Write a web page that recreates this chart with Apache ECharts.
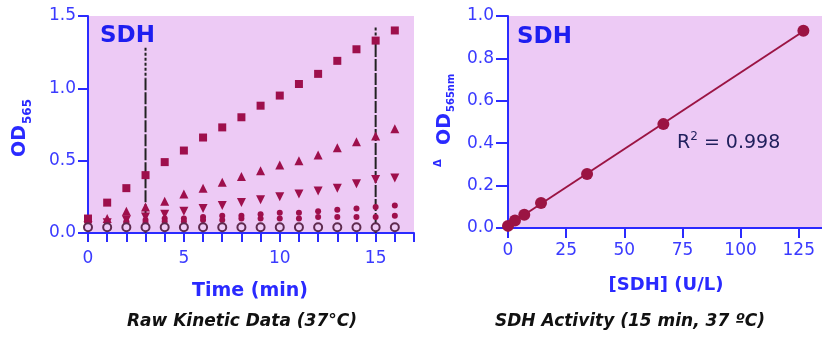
<!DOCTYPE html>
<html>
<head>
<meta charset="utf-8">
<script src="https://cdn.jsdelivr.net/npm/echarts@6/dist/echarts.min.js"></script>
<style>
  html, body { margin: 0; padding: 0; background: #fff; }
  #chart { width: 822px; height: 337px; }
</style>
</head>
<body>
<div id="chart"></div>
<script>
// raw kinetic data (OD565 vs time)
const times = [0, 1, 2, 3, 4, 5, 6, 7, 8, 9, 10, 11, 12, 13, 14, 15, 16];
const odSquare = [0.10, 0.21, 0.31, 0.40, 0.49, 0.57, 0.66, 0.73, 0.80, 0.88, 0.95, 1.03, 1.10, 1.19, 1.27, 1.33, 1.40];
const odTriUp = [0.07, 0.10, 0.15, 0.18, 0.22, 0.27, 0.31, 0.35, 0.39, 0.43, 0.47, 0.50, 0.54, 0.59, 0.63, 0.67, 0.72];
const odTriDown = [0.05, 0.07, 0.09, 0.11, 0.13, 0.15, 0.17, 0.19, 0.21, 0.23, 0.25, 0.27, 0.29, 0.31, 0.34, 0.37, 0.38];
const odDotHigh = [0.06, 0.07, 0.08, 0.09, 0.10, 0.10, 0.11, 0.12, 0.12, 0.13, 0.14, 0.14, 0.15, 0.16, 0.17, 0.18, 0.19];
const odDotLow = [0.05, 0.06, 0.07, 0.07, 0.08, 0.08, 0.09, 0.09, 0.10, 0.10, 0.10, 0.10, 0.11, 0.11, 0.11, 0.11, 0.12];
const odBlank = [0.04, 0.04, 0.04, 0.04, 0.04, 0.04, 0.04, 0.04, 0.04, 0.04, 0.04, 0.04, 0.04, 0.04, 0.04, 0.04, 0.04];

// read-out marker lines (time, top, where dashes turn long)
const readTimes = [3, 15];
const readTops = [1.28, 1.42];
const readSplits = [1.07, 1.30];

// standard curve
const sdhConc = [0, 3, 7, 14.2, 34, 66.8, 127];
const deltaOD = [0.01, 0.035, 0.063, 0.118, 0.255, 0.49, 0.93];
const r2Text = '0.998';

const leftXTicks = [0, 5, 10, 15];
const rightXTicks = [0, 25, 50, 75, 100, 125];

const blue = '#2b2bff';
const labelBlue = '#3a3aff';
const markColor = '#9e0f4c';
const bg = '#edcaf5';
const FONT = 'DejaVu Sans, sans-serif';

const toPairs = (xs, ys) => xs.map((x, i) => [x, ys[i]]);

// least squares fit for the standard curve line
function fitLine(xs, ys) {
  const n = xs.length;
  let sx = 0, sy = 0, sxx = 0, sxy = 0;
  for (let i = 0; i < n; i++) { sx += xs[i]; sy += ys[i]; sxx += xs[i] * xs[i]; sxy += xs[i] * ys[i]; }
  const slope = (n * sxy - sx * sy) / (n * sxx - sx * sx);
  const icpt = (sy - slope * sx) / n;
  const x0 = Math.min(...xs), x1 = Math.max(...xs);
  return [[x0, icpt + slope * x0], [x1, icpt + slope * x1]];
}

const chart = echarts.init(document.getElementById('chart'));

const axisBase = {
  axisLine: { show: true, onZero: false, lineStyle: { color: blue, width: 2 } },
  axisTick: { show: true, inside: false, lineStyle: { color: blue, width: 2 } },
  splitLine: { show: false },
  axisLabel: { color: labelBlue, fontFamily: FONT, fontSize: 17 }
};

function readLineSeries(i) {
  return [
    {
      type: 'line', xAxisIndex: 0, yAxisIndex: 0, symbol: 'none', silent: true, z: 1,
      data: [[readTimes[i], readTops[i]], [readTimes[i], readSplits[i]]],
      lineStyle: { color: '#222', width: 2, type: [3, 2] }
    },
    {
      type: 'line', xAxisIndex: 0, yAxisIndex: 0, symbol: 'none', silent: true, z: 1,
      data: [[readTimes[i], readSplits[i]], [readTimes[i], 0]],
      lineStyle: { color: '#222', width: 2, type: [12, 2] }
    }
  ];
}

function scatter(data, symbol, size, extra) {
  return Object.assign({
    type: 'scatter', xAxisIndex: 0, yAxisIndex: 0, symbol: symbol, symbolSize: size,
    data: toPairs(times, data), itemStyle: { color: markColor, opacity: 1 }, z: 3
  }, extra || {});
}

chart.setOption({
  animation: false,
  grid: [
    { left: 88, top: 16, width: 326, height: 217, show: true, backgroundColor: bg, borderWidth: 0 },
    { left: 508, top: 16, width: 314, height: 212, show: true, backgroundColor: bg, borderWidth: 0 }
  ],
  xAxis: [
    Object.assign({}, axisBase, {
      type: 'value', gridIndex: 0, min: 0, max: 17, interval: 1,
      axisTick: Object.assign({}, axisBase.axisTick, { length: 9 }),
      axisLabel: Object.assign({}, axisBase.axisLabel, {
        margin: 17,
        formatter: v => leftXTicks.includes(v) ? String(v) : ''
      })
    }),
    Object.assign({}, axisBase, {
      type: 'value', gridIndex: 1, min: 0, max: 135, interval: 25,
      axisTick: Object.assign({}, axisBase.axisTick, { length: 10, customValues: rightXTicks }),
      axisLabel: Object.assign({}, axisBase.axisLabel, { margin: 14, customValues: rightXTicks })
    })
  ],
  yAxis: [
    Object.assign({}, axisBase, {
      type: 'value', gridIndex: 0, min: 0, max: 1.5, interval: 0.5,
      axisTick: Object.assign({}, axisBase.axisTick, { length: 10 }),
      axisLabel: Object.assign({}, axisBase.axisLabel, { margin: 12, formatter: v => v.toFixed(1) })
    }),
    Object.assign({}, axisBase, {
      type: 'value', gridIndex: 1, min: 0, max: 1.0, interval: 0.2,
      axisTick: Object.assign({}, axisBase.axisTick, { length: 12 }),
      axisLabel: Object.assign({}, axisBase.axisLabel, { margin: 14, formatter: v => v.toFixed(1) })
    })
  ],
  series: [
    ...readLineSeries(0),
    ...readLineSeries(1),
    scatter(odSquare, 'rect', 8),
    scatter(odTriUp, 'triangle', 9),
    scatter(odTriDown, 'triangle', 9, { symbolRotate: 180 }),
    scatter(odDotHigh, 'circle', 6),
    scatter(odDotLow, 'circle', 6),
    scatter(odBlank, 'circle', 8, { itemStyle: { color: bg, borderColor: '#5e2a4e', borderWidth: 2, opacity: 1 }, z: 4 }),
    {
      type: 'line', xAxisIndex: 1, yAxisIndex: 1, symbol: 'none', silent: true,
      data: fitLine(sdhConc, deltaOD),
      lineStyle: { color: '#9b1443', width: 2 }, z: 2
    },
    {
      type: 'scatter', xAxisIndex: 1, yAxisIndex: 1, symbol: 'circle', symbolSize: 12,
      data: toPairs(sdhConc, deltaOD), itemStyle: { color: '#9b1443', opacity: 1 }, z: 3
    }
  ],
  graphic: [
    { type: 'text', left: 100, top: 25, style: { text: 'SDH', font: 'bold 23px ' + FONT, fill: '#1e1ef0' } },
    { type: 'text', left: 517, top: 26, style: { text: 'SDH', font: 'bold 23px ' + FONT, fill: '#1e1ef0' } },
    { type: 'text', x: 250, y: 291, style: { text: 'Time (min)', font: 'bold 19px ' + FONT, fill: '#2a2aff', textAlign: 'center', textVerticalAlign: 'middle' } },
    { type: 'text', x: 666, y: 285, style: { text: '[SDH] (U/L)', font: 'bold 18px ' + FONT, fill: '#2a2aff', textAlign: 'center', textVerticalAlign: 'middle' } },
    { type: 'text', x: 242, y: 322, style: { text: 'Raw Kinetic Data (37°C)', font: 'italic bold 17px ' + FONT, fill: '#111', textAlign: 'center', textVerticalAlign: 'middle' } },
    { type: 'text', x: 630, y: 322, style: { text: 'SDH Activity (15 min, 37 ºC)', font: 'italic bold 17px ' + FONT, fill: '#111', textAlign: 'center', textVerticalAlign: 'middle' } },
    {
      type: 'text', x: 677, y: 142,
      style: {
        text: '{a|R}{b|2}{a| = ' + r2Text + '}',
        textVerticalAlign: 'middle',
        rich: {
          a: { fontFamily: FONT, fontSize: 19, fill: '#1f1f5c', color: '#1f1f5c', lineHeight: 22, verticalAlign: 'bottom' },
          b: { fontFamily: FONT, fontSize: 12, fill: '#1f1f5c', color: '#1f1f5c', lineHeight: 22, verticalAlign: 'top' }
        }
      }
    },
    {
      type: 'group', x: 20, y: 157, rotation: Math.PI / 2,
      children: [
        { type: 'text', x: 0, y: 0, style: { text: 'OD', font: 'bold 19px ' + FONT, fill: '#2a2aff', textAlign: 'left', textVerticalAlign: 'middle' } },
        { type: 'text', x: 33, y: 8, style: { text: '565', font: 'bold 12px ' + FONT, fill: '#2a2aff', textAlign: 'left', textVerticalAlign: 'middle' } }
      ]
    },
    {
      type: 'group', x: 445, y: 167, rotation: Math.PI / 2,
      children: [
        { type: 'text', x: 0, y: -7, style: { text: 'Δ', font: 'bold 10px ' + FONT, fill: '#2a2aff', textAlign: 'left', textVerticalAlign: 'middle' } },
        { type: 'text', x: 22, y: 0, style: { text: 'OD', font: 'bold 19px ' + FONT, fill: '#2a2aff', textAlign: 'left', textVerticalAlign: 'middle' } },
        { type: 'text', x: 55, y: 6, style: { text: '565nm', font: 'bold 10px ' + FONT, fill: '#2a2aff', textAlign: 'left', textVerticalAlign: 'middle' } }
      ]
    }
  ]
});
</script>
</body>
</html>
